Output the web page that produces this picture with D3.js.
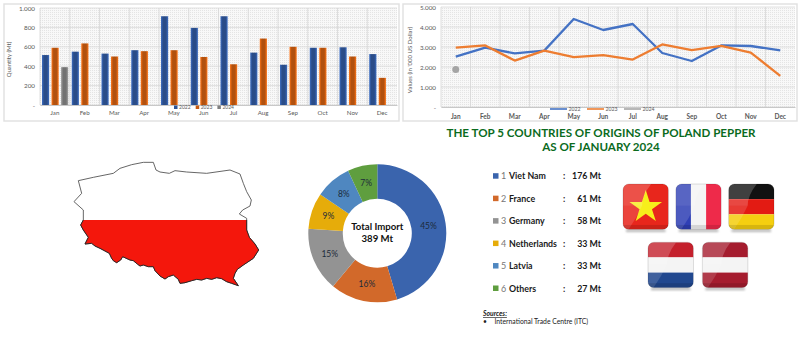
<!DOCTYPE html>
<html>
<head>
<meta charset="utf-8">
<script src="https://cdn.jsdelivr.net/npm/d3@7"></script>
<style>
html,body{margin:0;padding:0;background:#fff;}
svg{display:block;font-family:Lato,sans-serif;}
</style>
</head>
<body>
<svg id="graf" width="800" height="359"></svg>
<script>
const months = ["Jan","Feb","Mar","Apr","May","Jun","Jul","Aug","Sep","Oct","Nov","Dec"];
const years = ["2022","2023","2024"];
const colori = ["#2f5597","#c55a11","#7f7f7f"];
const colori_linee = ["#4472c4","#ed7d31","#a5a5a5"];

// quantita (Mt)
const qty2022 = [515,550,530,565,915,795,915,540,415,590,595,525];
const qty2023 = [590,635,500,555,565,495,420,685,600,590,500,280];
const qty2024 = [390];
const qtyTicks = [0,200,400,600,800,1000];

// valori ('000 US Dollar)
const val2022 = [2520,2970,2680,2820,4400,3850,4150,2700,2300,3080,3050,2830];
const val2023 = [2970,3080,2320,2820,2490,2590,2370,3130,2840,3060,2720,1560];
const val2024 = [1870];
const valTicks = [0,1000,2000,3000,4000,5000];

// ciambella e legenda
const paesi = ["Viet Nam","France","Germany","Netherlands","Latvia","Others"];
const import_mt = [176,61,58,33,33,27];
const percentuali = ["45%","16%","15%","9%","8%","7%"];
const colori_paesi = ["#3a64ad","#d2692a","#939393","#e6ac0a","#4f87c0","#5f9e3f"];

// contorno della Polonia, in unita della cartina
const contorno = [[85,92],[130,82],[190,70],[210,55],[245,44],[280,37],[310,37],[318,60],[330,66],[358,70],[375,62],[410,66],[470,70],[540,60],[570,72],[580,100],[590,125],[604,150],[600,168],[578,180],[568,192],[590,205],[590,240],[598,262],[615,282],[626,300],[610,325],[580,345],[562,358],[555,370],[550,385],[565,407],[545,400],[530,395],[515,386],[500,383],[485,388],[470,385],[455,390],[440,388],[425,392],[405,398],[390,400],[385,388],[370,375],[355,380],[345,387],[330,378],[315,362],[310,350],[295,350],[280,345],[270,348],[262,342],[250,332],[240,330],[218,320],[212,330],[200,338],[190,332],[185,325],[178,310],[165,303],[150,295],[135,288],[125,280],[105,282],[115,262],[100,240],[92,225],[100,210],[100,180],[72,155],[95,130],[85,92]];

// bandiere: strisce dall'alto verso il basso (Francia in verticale)
const bandiere = [
    {nome:"vn", strisce:["#e8261c"], riga:0, col:0},
    {nome:"fr", strisce:["#2f3fb5","#f4f4f4","#ee2a4a"], verticale:true, riga:0, col:1},
    {nome:"de", strisce:["#111111","#e31b13","#f5cf10"], riga:0, col:2},
    {nome:"nl", strisce:["#c4202c","#f4f4f4","#21488f"], riga:1, col:0},
    {nome:"lv", strisce:["#a51c2e","#f4f4f4","#a51c2e"], riga:1, col:1}
];

const svg = d3.select("#graf");
const defs = svg.append("defs");
const numero = d3.formatLocale({decimal:",",thousands:".",grouping:[3],currency:["",""]}).format(",d");

// sfondo puntinato dei grafici
const trama = defs.append("pattern").attr("id","trama").attr("width",2).attr("height",2).attr("patternUnits","userSpaceOnUse");
trama.append("rect").attr("width",2).attr("height",2).attr("fill","#f8f8f8");
trama.append("rect").attr("width",1).attr("height",1).attr("fill","#e4e4e4");

// gradienti delle barre
colori.forEach(function(c,i){
    const g = defs.append("linearGradient").attr("id","barra"+i);
    g.append("stop").attr("offset","0%").attr("stop-color",d3.color(c).brighter(0.7));
    g.append("stop").attr("offset","30%").attr("stop-color",d3.color(c).darker(0.3));
    g.append("stop").attr("offset","70%").attr("stop-color",d3.color(c).darker(0.3));
    g.append("stop").attr("offset","100%").attr("stop-color",d3.color(c).brighter(0.7));
});

function cornice(x0,x1,y0,y1,px0,px1,py0,py1,ticks,titolo,bold){
    svg.append("rect").attr("x",x0).attr("y",y0).attr("width",x1-x0).attr("height",y1-y0)
        .attr("fill","#fff").attr("stroke","#e2e2e2").attr("stroke-width",1.5);
    const x = d3.scaleBand().domain(months).range([px0,px1]);
    const y = d3.scaleLinear().domain([0,ticks[ticks.length-1]]).range([py1,py0]);
    svg.append("rect").attr("x",px0).attr("y",py0).attr("width",px1-px0).attr("height",py1-py0).attr("fill","url(#trama)");

    const griglia = svg.append("g");
    griglia.selectAll("line.h").data(ticks).enter().append("line")
        .attr("x1",px0).attr("x2",px1).attr("y1",d=>y(d)).attr("y2",d=>y(d))
        .attr("stroke","#d9d9d9").attr("stroke-width",0.8);
    griglia.selectAll("line.v").data(months).enter().append("line")
        .attr("x1",d=>x(d)).attr("x2",d=>x(d)).attr("y1",py0).attr("y2",py1)
        .attr("stroke","#d6d6d6").attr("stroke-width",0.8);

    const asseY = svg.append("g").attr("transform","translate("+px0+",0)")
        .call(d3.axisLeft(y).tickValues(ticks).tickSize(0).tickPadding(5).tickFormat(d=>d==0?"-":numero(d)));
    asseY.select(".domain").remove();
    asseY.selectAll("text").style("font-family","Lato").style("font-size","6.3px").attr("fill","#595959");

    const asseX = svg.append("g").attr("transform","translate(0,"+py1+")")
        .call(d3.axisBottom(x).tickSize(0).tickPadding(bold?7:5.5));
    asseX.select(".domain").attr("stroke","#c8c8c8");
    asseX.selectAll("text").style("font-family","Lato").style("font-size",bold?"6.5px":"6.2px").style("font-weight",bold?"700":"400").attr("fill","#595959");

    svg.append("text").attr("transform","translate("+(x0+(bold?8.5:7))+","+((py0+py1)/2+3)+") rotate(-90)")
        .attr("text-anchor","middle").style("font-size","6px").attr("fill","#595959").text(titolo);
    return {x:x,y:y};
}

// ---- grafico a barre
const sx = cornice(4,399,4,121,40,397,8,105,qtyTicks,"Quantity (Mt)",false);
const gruppi = d3.scaleBand().domain(years).range([0,26.2]).paddingInner(0.25);
[qty2022,qty2023,qty2024].forEach(function(serie,i){
    svg.append("g").selectAll("rect").data(serie).enter().append("rect")
        .attr("x",(d,k)=>sx.x(months[k])+2+gruppi(years[i]))
        .attr("y",d=>sx.y(d))
        .attr("width",gruppi.bandwidth())
        .attr("height",d=>sx.y(0)-sx.y(d))
        .attr("fill","url(#barra"+i+")");
});
const legBarre = svg.append("g").selectAll("g").data(years).enter().append("g")
    .attr("transform",(d,i)=>"translate("+(174+i*21.7)+",107.3)");
legBarre.append("rect").attr("y",-1.8).attr("width",3.5).attr("height",3.5).attr("fill",(d,i)=>colori[i]);
legBarre.append("text").attr("x",5).attr("y",1.7).style("font-size","5px").attr("fill","#595959").text(d=>d);

// ---- grafico a linee
const sv = cornice(403,797,4,121,441,795,7,107,valTicks,"Values (in '000 US Dollar)",true);
const linea = d3.line().x((d,k)=>sv.x(months[k])+sv.x.bandwidth()/2).y(d=>sv.y(d));
[val2022,val2023].forEach(function(serie,i){
    svg.append("path").datum(serie).attr("d",linea).attr("fill","none")
        .attr("stroke",colori_linee[i]).attr("stroke-width",2.3).attr("stroke-linejoin","round");
});
svg.append("g").selectAll("circle").data(val2024).enter().append("circle")
    .attr("cx",(d,k)=>sv.x(months[k])+sv.x.bandwidth()/2).attr("cy",d=>sv.y(d)).attr("r",3.5).attr("fill","#a5a5a5");
const legLinee = svg.append("g").selectAll("g").data(years).enter().append("g")
    .attr("transform",(d,i)=>"translate("+(550+i*37)+",109)");
legLinee.append("line").attr("x2",17).attr("stroke",(d,i)=>colori_linee[i]).attr("stroke-width",1.6);
legLinee.append("text").attr("x",18.5).attr("y",1.8).style("font-size","5.2px").attr("fill","#595959").text(d=>d);

// ---- titolo
const titolo = svg.append("g").attr("text-anchor","middle").attr("fill","#0b6b1e").style("font-size","11.6px").style("font-weight","700");
titolo.append("text").attr("x",601).attr("y",137).text("THE TOP 5 COUNTRIES OF ORIGINS OF POLAND PEPPER");
titolo.append("text").attr("x",601).attr("y",151).text("AS OF JANUARY 2024");

// ---- cartina
const mx = d3.scaleLinear().domain([0,660]).range([50,270]);
const my = d3.scaleLinear().domain([0,510]).range([150,320]);
const lineaMappa = d3.line().x(d=>mx(d[0])).y(d=>my(d[1]));
defs.append("clipPath").attr("id","sud").append("rect")
    .attr("x",mx(0)).attr("y",my(210)).attr("width",mx(660)-mx(0)).attr("height",my(510)-my(210));
svg.append("path").datum(contorno).attr("d",lineaMappa).attr("fill","#fff").attr("stroke","#555").attr("stroke-width",0.9);
svg.append("path").datum(contorno).attr("d",lineaMappa).attr("fill","#f4170c").attr("stroke","#222").attr("stroke-width",0.9).attr("clip-path","url(#sud)");

// ---- ciambella
const ciambella = svg.append("g").attr("transform","translate(377.3,233.3)");
const torta = d3.pie().sort(null).value(d=>d)(import_mt);
const arco = d3.arc().innerRadius(34.5).outerRadius(69);
ciambella.selectAll("path").data(torta).enter().append("path")
    .attr("d",arco).attr("fill",(d,i)=>colori_paesi[i]);
ciambella.selectAll("text.pct").data(torta).enter().append("text")
    .attr("class","pct")
    .attr("transform",d=>"translate("+arco.centroid(d)+")")
    .attr("text-anchor","middle").attr("dy","0.35em")
    .style("font-size","8.5px").attr("fill","#1c2b3a")
    .text((d,i)=>percentuali[i]);
ciambella.append("text").attr("text-anchor","middle").attr("y",-3.5).style("font-size","9.6px").style("font-weight","700").attr("fill","#111").text("Total Import");
ciambella.append("text").attr("text-anchor","middle").attr("y",9).style("font-size","9.6px").style("font-weight","700").attr("fill","#111").text("389 Mt");

// ---- legenda paesi
const righe = d3.scalePoint().domain(paesi).range([176,288.3]);
const riga = svg.append("g").selectAll("g").data(paesi).enter().append("g")
    .attr("transform",d=>"translate(0,"+righe(d)+")");
riga.append("rect").attr("x",493).attr("y",-2.8).attr("width",5.5).attr("height",5.5).attr("fill",(d,i)=>colori_paesi[i]);
riga.append("text").attr("x",501).attr("y",3.2).style("font-size","9px").attr("fill","#777").text((d,i)=>i+1);
riga.append("text").attr("x",509).attr("y",3.2).style("font-size","8.8px").style("font-weight","700").attr("fill","#1a1a1a").text(d=>d);
riga.append("text").attr("x",563).attr("y",3.2).style("font-size","8.8px").style("font-weight","700").attr("fill","#1a1a1a").text(":");
riga.append("text").attr("x",601).attr("y",3.2).attr("text-anchor","end").style("font-size","8.8px").style("font-weight","700").attr("fill","#1a1a1a").text((d,i)=>import_mt[i]+" Mt");

svg.append("text").attr("x",483).attr("y",316).style("font-size","6.8px").style("font-style","italic").style("font-weight","700").style("text-decoration","underline").attr("fill","#222").text("Sources:");
svg.append("text").attr("x",483).attr("y",324).style("font-size","6.8px").attr("fill","#222").text("•");
svg.append("text").attr("x",494.5).attr("y",324).style("font-size","6.8px").attr("fill","#222").text("International Trade Centre (ITC)");

// ---- bandiere
const lato = 45.5;
const colonne = [d3.scaleBand().domain([0,1,2]).range([623,775]).paddingInner(0.12),
                 d3.scaleBand().domain([0,1]).range([648,747.5]).paddingInner(0.17)];
const righeFlag = d3.scaleBand().domain([0,1]).range([184,286.5]).paddingInner(0.24);
const ombra = defs.append("filter").attr("id","ombra").attr("x","-20%").attr("y","-50%").attr("width","140%").attr("height","200%");
ombra.append("feGaussianBlur").attr("stdDeviation",1.2);

bandiere.forEach(function(b){
    const fx = colonne[b.riga](b.col), fy = righeFlag(b.riga);
    const g = svg.append("g").attr("transform","translate("+fx+","+fy+")");
    defs.append("clipPath").attr("id","clip_"+b.nome).append("rect").attr("width",lato).attr("height",lato).attr("rx",6);
    g.append("rect").attr("x",3).attr("y",lato).attr("width",lato-6).attr("height",2.5).attr("fill","#888").attr("opacity",0.6).attr("filter","url(#ombra)");
    const f = g.append("g").attr("clip-path","url(#clip_"+b.nome+")");
    const passo = d3.scaleBand().domain(d3.range(b.strisce.length)).range([0,lato]);
    f.selectAll("rect").data(b.strisce).enter().append("rect")
        .attr("x",(d,i)=>b.verticale?passo(i):0)
        .attr("y",(d,i)=>b.verticale?0:passo(i))
        .attr("width",b.verticale?passo.bandwidth():lato)
        .attr("height",b.verticale?lato:passo.bandwidth())
        .attr("fill",d=>d);
    if(b.nome=="vn"){
        f.append("path").attr("transform","translate("+lato/2+","+(lato/2+0.5)+")")
            .attr("d",d3.symbol(d3.symbolStar,330)()).attr("fill","#f7ee1b");
    }
    // riflesso lucido
    f.append("path").attr("d","M0 0H"+lato*0.62+"Q"+lato*0.42+" "+lato*0.25+" "+lato*0.42+" "+lato*0.48+"H0Z").attr("fill","#fff").attr("opacity",0.2);
    f.append("path").attr("d","M0 "+lato*0.48+"H"+lato*0.42+"Q"+lato*0.3+" "+lato*0.75+" "+lato*0.12+" "+lato+"H0Z").attr("fill","#fff").attr("opacity",0.14);
    f.append("rect").attr("y",lato*0.9).attr("width",lato).attr("height",lato*0.1).attr("fill","#000").attr("opacity",0.12);
    g.append("rect").attr("width",lato).attr("height",lato).attr("rx",6).attr("fill","none").attr("stroke","#000").attr("stroke-opacity",0.18).attr("stroke-width",0.7);
});
</script>
</body>
</html>
